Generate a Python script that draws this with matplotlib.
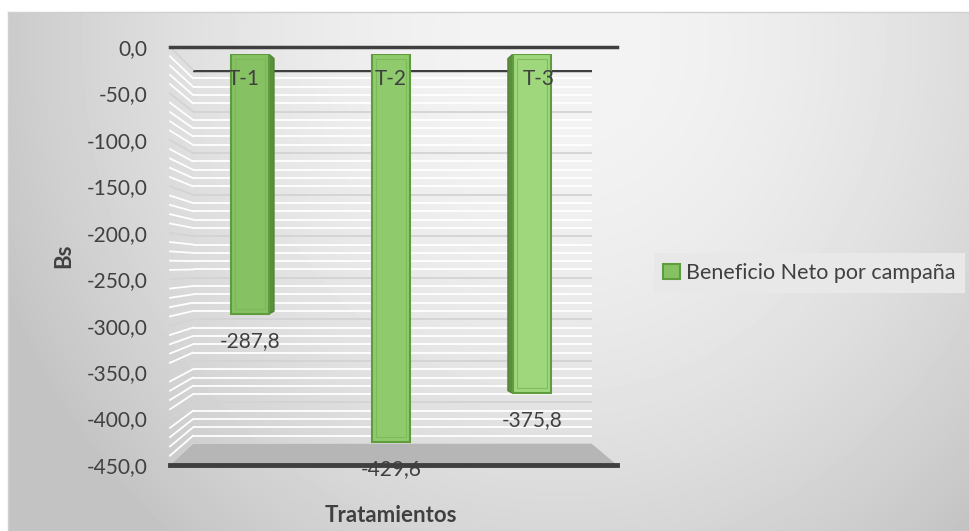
import numpy as np
import matplotlib
matplotlib.use("Agg")
import matplotlib.pyplot as plt
from matplotlib.patches import Polygon
from matplotlib.lines import Line2D
from matplotlib.transforms import IdentityTransform

# data
tratamientos = ["T-1", "T-2", "T-3"]
beneficio = [-287.8, -429.6, -375.8]
y_ticks = [0, -50, -100, -150, -200, -250, -300, -350, -400, -450]
serie = "Beneficio Neto por campaña"

plt.rcParams["font.family"] = ["Lato", "DejaVu Sans"]
txt = "#404040"

W, H = 970, 531
fig = plt.figure(figsize=(W / 100, H / 100), dpi=100)
fig.patch.set_facecolor("white")


def px_rect(x0, y0, x1, y1):
    return [x0 / W, 1 - y1 / H, (x1 - x0) / W, (y1 - y0) / H]


# background gradient of the chart area
bg = fig.add_axes(px_rect(8, 12, W, H))
bg.set_zorder(-1)
yy, xx = np.mgrid[12:H, 8:W]
d = ((xx - 560) / 600.0) ** 2 + ((yy - 40) / 650.0) ** 2
shade = (244 - 48 * np.clip(d, 0, 1) ** 0.9) / 255.0
bg.imshow(shade, cmap="gray", vmin=0, vmax=1, aspect="auto", interpolation="bilinear")
bg.set_xticks([])
bg.set_yticks([])
for s in bg.spines.values():
    s.set_color("#d0d0d0")
    s.set_linewidth(1)

# back wall
back = fig.add_axes(px_rect(193, 70, 592, 444))
back.set_zorder(0.5)
back.set_facecolor("none")
back.set_xlim(0, 1)
back.set_ylim(-450, 0)
back.axis("off")

# front axis (ticks)
front = fig.add_axes(px_rect(170, 47, 617, 465))
front.set_zorder(2)
front.set_facecolor("none")
front.set_xlim(0, 1)
front.set_ylim(-450, 0)
for s in front.spines.values():
    s.set_visible(False)
front.set_xticks([])
front.set_yticks(y_ticks)
front.set_yticklabels([("%.1f" % abs(v) if v == 0 else "%.1f" % v).replace(".", ",") for v in y_ticks],
                      fontsize=15, color=txt)
front.tick_params(axis="y", length=0, pad=16)

# bars axis (middle depth)
bars = fig.add_axes(px_rect(170, 54, 617, 460.5))
bars.set_zorder(1)
bars.set_facecolor("none")
bars.set_xlim(-0.567, 2.603)
bars.set_ylim(-450, 0)
bars.axis("off")

# gridlines on back wall and side wall
for v in range(0, -451, -10):
    col = "#d3d3d3" if v % 50 == 0 else "white"
    back.axhline(v, color=col, lw=1.3, zorder=1)
    p0 = front.transData.transform((0, v))
    p1 = back.transData.transform((0, v))
    fig.add_artist(Line2D([p0[0], p1[0]], [p0[1], p1[1]], color=col, lw=1.3,
                          transform=IdentityTransform(), zorder=0.6))
back.axhline(0, color="#3f3f3f", lw=2.5, zorder=3)

# floor
fl = front.transData.transform([(0, -450), (1, -450)])
bl = back.transData.transform([(1, -450), (0, -450)])
fig.add_artist(Polygon(np.vstack([fl, bl]), closed=True, facecolor="#b6b6b6", edgecolor="none",
                       transform=IdentityTransform(), zorder=0.7))
front.axhline(0, color="#3f3f3f", lw=2.5, clip_on=False)
front.axhline(-450, color="#3f3f3f", lw=3.5, clip_on=False)

# bars
x = np.arange(len(tratamientos))
bw = 0.27
colores = ["#86c264", "#8fcb6c", "#9fd87c"]
bars.bar(x, beneficio, width=bw, color=colores, edgecolor="#5f9c3d", linewidth=1.5, zorder=2,
         label=serie)
bars.bar(x, np.array(beneficio) + 12, bottom=-6, width=bw * 0.8, fill=False,
         edgecolor="#79b656", linewidth=0.8, alpha=0.8, zorder=2.5)
# side faces
dx = 0.036
for i, side in [(0, 1), (2, -1)]:
    xe = x[i] + side * bw / 2
    v = beneficio[i]
    bars.add_patch(Polygon([(xe, 0), (xe + side * dx, -5), (xe + side * dx, v + 3), (xe, v)],
                           closed=True, facecolor="#5b8f3c", edgecolor="#4f8034", lw=0.8, zorder=1.9))

# category labels and data labels
for i, (t, v) in enumerate(zip(tratamientos, beneficio)):
    bars.annotate(t, (x[i] + (i - 1) * 0.045, 0), xytext=(0, -25), textcoords="offset pixels",
                  fontsize=15, color=txt, ha="center", va="center", zorder=5, annotation_clip=False)
    bars.annotate(("%.1f" % v).replace(".", ","), (x[i], v), xytext=(0, -27),
                  textcoords="offset pixels", fontsize=15, color=txt, ha="center", va="center",
                  zorder=5, annotation_clip=False)

# axis titles
fig.text(64 / W, 1 - 256 / H, "Bs", rotation=90, fontsize=16, fontweight="bold", color=txt,
         ha="center", va="center")
fig.text(391 / W, 1 - 515 / H, "Tratamientos", fontsize=16, fontweight="bold", color=txt,
         ha="center", va="center")

# legend
h, l = bars.get_legend_handles_labels()
leg = fig.legend(h[:1], l[:1], loc="center left", bbox_to_anchor=(643 / W, 1 - 273 / H),
                 frameon=True, fancybox=False, fontsize=15.5, handlelength=0.75, handleheight=0.75,
                 handletextpad=0.3, borderpad=0.45, labelcolor=txt)
leg.get_frame().set_facecolor("#e8e8e8")
leg.get_frame().set_edgecolor("none")
leg.get_frame().set_alpha(1)

fig.savefig("out.png", dpi=100)
